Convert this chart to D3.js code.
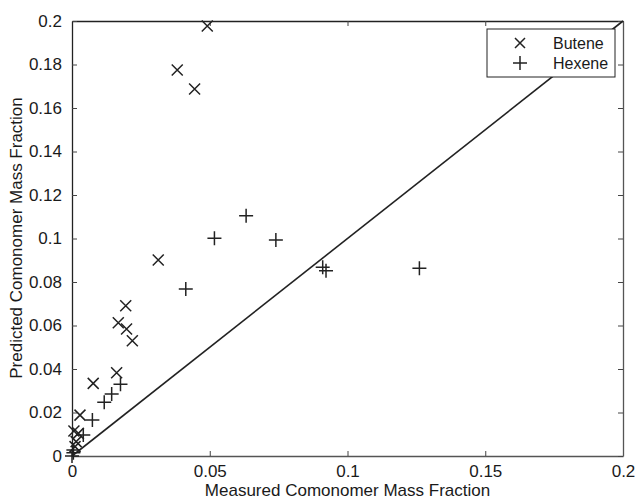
<!DOCTYPE html>
<html>
<head>
<meta charset="utf-8">
<script src="https://cdn.jsdelivr.net/npm/d3@7"></script>
<style>
body { margin:0; background:#fff; }
text { font-family: "Liberation Sans", Arial, sans-serif; fill:#1a1a1a; }
</style>
</head>
<body>
<script>
var w = 637, h = 500;

// data (measured, predicted)
var buteneX = [0.0491, 0.0382, 0.0445, 0.0313, 0.0195, 0.0168, 0.0198, 0.0219, 0.0162, 0.0077, 0.0029, 0.0007, 0.0023, 0.0015, 0.0011];
var buteneY = [0.1977, 0.1775, 0.1687, 0.0901, 0.0691, 0.0613, 0.0584, 0.0530, 0.0383, 0.0334, 0.0188, 0.0115, 0.0104, 0.0066, 0.0043];
var hexeneX = [0.0632, 0.0517, 0.0740, 0.0910, 0.0922, 0.1261, 0.0413, 0.0176, 0.0144, 0.0117, 0.0074, 0.0041, 0.0005, 0.0005, 0.0000];
var hexeneY = [0.1105, 0.1001, 0.0993, 0.0868, 0.0852, 0.0863, 0.0768, 0.0330, 0.0285, 0.0247, 0.0166, 0.0097, 0.0028, 0.0015, 0.0000];
var xTicks = [0, 0.05, 0.1, 0.15, 0.2];
var yTicks = [0, 0.02, 0.04, 0.06, 0.08, 0.1, 0.12, 0.14, 0.16, 0.18, 0.2];

var x = d3.scaleLinear().domain([0, 0.2]).range([72, 623]);
var y = d3.scaleLinear().domain([0, 0.2]).range([456, 21]);

var svg = d3.select("body").append("svg")
	.attr("width", w)
	.attr("height", h)

// axes, matlab style ticks pointing inwards
var fmt = function(d){ return d3.format("~g")(d); };
var bot = svg.append("g").attr("transform","translate(0,456)")
	.call(d3.axisBottom(x).tickValues(xTicks).tickFormat(fmt).tickSizeInner(-5).tickSizeOuter(0).tickPadding(9))
svg.append("g").attr("transform","translate(0,21)")
	.call(d3.axisTop(x).tickValues(xTicks).tickFormat("").tickSizeInner(-5).tickSizeOuter(0))
svg.append("g").attr("transform","translate(72,0)")
	.call(d3.axisLeft(y).tickValues(yTicks).tickFormat(fmt).tickSizeInner(-5).tickSizeOuter(0).tickPadding(10))
var rgt = svg.append("g").attr("transform","translate(623,0)")
	.call(d3.axisRight(y).tickValues(yTicks).tickFormat("").tickSizeInner(-5).tickSizeOuter(0))

svg.selectAll(".domain").style("stroke","#222").style("stroke-width",1.3)
bot.select(".domain").style("stroke","#555").style("stroke-width",1.6)
rgt.select(".domain").style("stroke","#555")
svg.selectAll(".tick line").style("stroke","#444")
svg.selectAll(".tick text").style("font-size","17px").style("fill","#1a1a1a")
	.style("font-family","'Liberation Sans', Arial, sans-serif")

// diagonal y = x
svg.append("line")
	.attr("x1", x(0)).attr("y1", y(0))
	.attr("x2", x(0.2)).attr("y2", y(0.2))
	.style("stroke","#222").style("stroke-width",1.6)

var mk = svg.append("g").style("stroke","#222").style("stroke-width",1.5).style("fill","none")

mk.selectAll("path.b")
	.data(d3.range(buteneX.length))
	.enter()
	.append("path")
	.attr("class","b")
	.attr("d", function(i){
		var cx = x(buteneX[i]), cy = y(buteneY[i]), r = 5.5;
		return "M"+(cx-r)+","+(cy-r)+"L"+(cx+r)+","+(cy+r)+"M"+(cx-r)+","+(cy+r)+"L"+(cx+r)+","+(cy-r);
	})

mk.selectAll("path.hx")
	.data(d3.range(hexeneX.length))
	.enter()
	.append("path")
	.attr("class","hx")
	.attr("d", function(i){
		var cx = x(hexeneX[i]), cy = y(hexeneY[i]), r = 7;
		return "M"+(cx-r)+","+cy+"L"+(cx+r)+","+cy+"M"+cx+","+(cy-r)+"L"+cx+","+(cy+r);
	})

// legend
var leg = svg.append("g")
leg.append("rect").attr("x",487).attr("y",29).attr("width",128).attr("height",48)
	.style("fill","#fff").style("stroke","#222").style("stroke-width",1)
leg.append("path")
	.attr("d","M515,38L525,48M515,48L525,38")
	.style("stroke","#222").style("stroke-width",1.5)
leg.append("path")
	.attr("d","M513,63L527,63M520,56L520,70")
	.style("stroke","#222").style("stroke-width",1.5)
leg.append("text").attr("x",553).attr("y",49).style("font-size","16px").text("Butene")
leg.append("text").attr("x",553).attr("y",69).style("font-size","16px").text("Hexene")

// axis titles
svg.append("text").attr("x",(72+623)/2).attr("y",496).attr("text-anchor","middle")
	.style("font-size","17px").text("Measured Comonomer Mass Fraction")
svg.append("text").attr("transform","translate(22,238) rotate(-90)").attr("text-anchor","middle")
	.style("font-size","17px").text("Predicted Comonomer Mass Fraction")
</script>
</body>
</html>
